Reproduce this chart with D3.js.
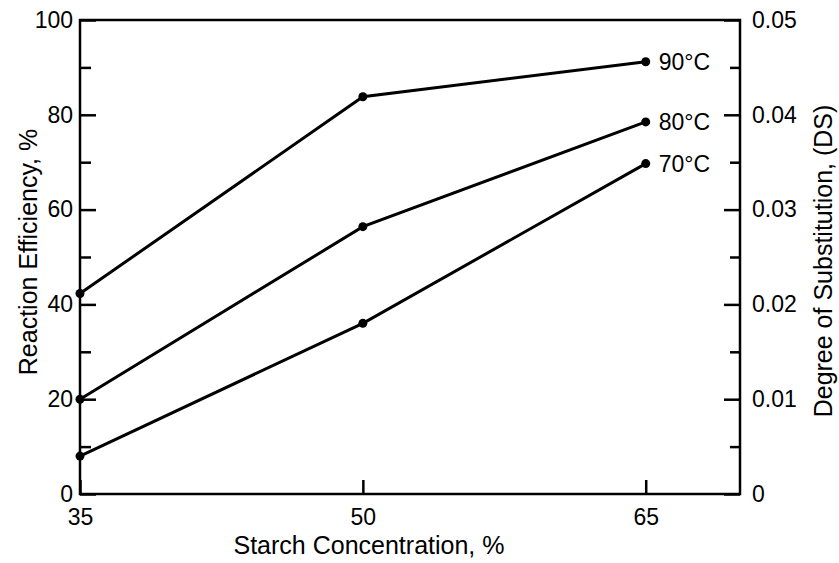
<html>
<head>
  <title>Reaction Efficiency</title>
  <script src="https://d3js.org/d3.v7.min.js"></script>
  <style>
    body { margin: 0; background: #fff; }
    text { font-family: "Liberation Sans", Arial, sans-serif; fill: #000; }
    .axis path { display: none; }
    .axis line { stroke: #000; stroke-width: 2.5; }
    .axis text { font-size: 23px; }
  </style>
</head>
<body>
  <div id="chart"></div>
  <script type="text/javascript">

    // data
    var concentrations = [35, 50, 65];
    var temps = ['70\u00B0C', '80\u00B0C', '90\u00B0C'];
    var eff70 = [8, 36, 69.7];
    var eff80 = [20, 56.4, 78.5];
    var eff90 = [42.3, 83.8, 91.2];
    var xTicks = [35, 50, 65];
    var leftMajor = [0, 20, 40, 60, 80, 100];
    var leftMinor = [10, 30, 50, 70, 90];
    var rightMajor = [0, 0.01, 0.02, 0.03, 0.04, 0.05];
    var rightMinor = [0.005, 0.015, 0.025, 0.035, 0.045];

    var series = [eff70, eff80, eff90];

    var W = 839, H = 563;
    var plotL = 80, plotR = 740, plotT = 20, plotB = 494;

    var x = d3.scaleLinear().domain([35, 70]).range([plotL, plotR]);
    var y = d3.scaleLinear().domain([0, 100]).range([plotB, plotT]);
    var y2 = d3.scaleLinear().domain([0, 0.05]).range([plotB, plotT]);

    var svg = d3.select('#chart')
                .append('svg')
                  .attr('width', W)
                  .attr('height', H);

    // frame
    svg.append('rect')
        .attr('x', plotL)
        .attr('y', plotT)
        .attr('width', plotR - plotL)
        .attr('height', plotB - plotT)
        .attr('fill', 'none')
        .attr('stroke', '#000')
        .attr('stroke-width', 2.5);

    // left axis, ticks pointing inward
    svg.append('g')
        .attr('class', 'axis')
        .attr('transform', 'translate(' + plotL + ',0)')
        .call(d3.axisLeft(y).tickValues(leftMinor).tickSize(-11).tickSizeOuter(0).tickFormat(''));
    svg.append('g')
        .attr('class', 'axis')
        .attr('transform', 'translate(' + plotL + ',0)')
        .call(d3.axisLeft(y).tickValues(leftMajor).tickSize(-16).tickSizeOuter(0).tickPadding(7));

    // right axis
    svg.append('g')
        .attr('class', 'axis')
        .attr('transform', 'translate(' + plotR + ',0)')
        .call(d3.axisRight(y2).tickValues(rightMinor).tickSize(-10).tickSizeOuter(0).tickFormat(''));
    svg.append('g')
        .attr('class', 'axis')
        .attr('transform', 'translate(' + plotR + ',0)')
        .call(d3.axisRight(y2).tickValues(rightMajor).tickSize(-16).tickSizeOuter(0).tickPadding(12)
              .tickFormat(function(d) { return d === 0 ? '0' : d3.format('.2f')(d); }));

    // bottom axis
    var xa = svg.append('g')
        .attr('class', 'axis')
        .attr('transform', 'translate(0,' + plotB + ')')
        .call(d3.axisBottom(x).tickValues(xTicks).tickSize(-14).tickSizeOuter(0).tickPadding(10));
    xa.selectAll('text').attr('dy', '0.9em');

    // titles
    svg.append('text')
        .text('Starch Concentration, %')
        .attr('x', 369)
        .attr('y', 554)
        .attr('text-anchor', 'middle')
        .style('font-size', '25px');

    svg.append('text')
        .text('Reaction Efficiency, %')
        .attr('transform', 'translate(37,252) rotate(-90)')
        .attr('text-anchor', 'middle')
        .style('font-size', '25px');

    svg.append('text')
        .text('Degree of Substitution, (DS)')
        .attr('transform', 'translate(832,261) rotate(-90)')
        .attr('text-anchor', 'middle')
        .style('font-size', '25px');

    // lines and points
    var line = d3.line()
        .x(function(d, i) { return x(concentrations[i]); })
        .y(function(d) { return y(d); });

    series.forEach(function(vals, k) {
      svg.append('path')
          .datum(vals)
          .attr('d', line)
          .attr('fill', 'none')
          .attr('stroke', '#000')
          .attr('stroke-width', 3);

      svg.selectAll('circle.s' + k)
          .data(vals)
          .enter().append('circle')
            .attr('class', 's' + k)
            .attr('cx', function(d, i) { return x(concentrations[i]); })
            .attr('cy', function(d) { return y(d); })
            .attr('r', 4.5)
            .attr('fill', '#000');

      svg.append('text')
          .text(temps[k])
          .attr('x', x(concentrations[2]) + 13)
          .attr('y', y(vals[2]))
          .attr('dy', '0.35em')
          .style('font-size', '23px');
    });

  </script>
</body>
</html>
